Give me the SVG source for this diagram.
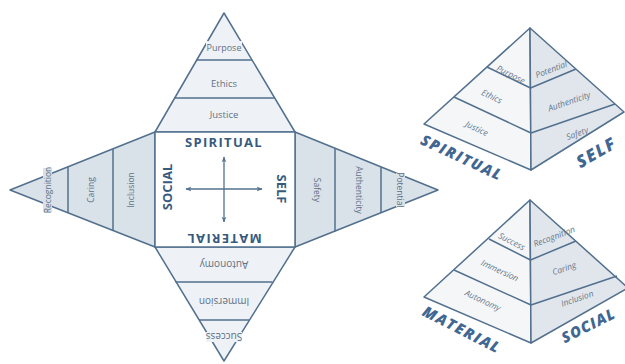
<svg xmlns="http://www.w3.org/2000/svg" width="625" height="364" viewBox="0 0 625 364">
<style>
.edge{stroke:#52708e;stroke-width:1.5;stroke-linejoin:round}
.tb{fill:#eef1f5}
.sd{fill:#d9e1e9}
.lbl{font-family:"Open Sans","Noto Sans",sans-serif;fill:#5e7185;text-anchor:middle;dominant-baseline:central}
.big{font-family:"Open Sans","Noto Sans",sans-serif;font-weight:700;fill:#375a7f;text-anchor:middle;dominant-baseline:central;font-size:13px}
.pl{font-family:"Open Sans","Noto Sans",sans-serif;font-style:italic;fill:#65788c;text-anchor:middle;dominant-baseline:central;font-size:8.5px}
.pb{font-family:"Open Sans","Noto Sans",sans-serif;font-style:italic;font-weight:800;fill:#3f6792;text-anchor:middle;dominant-baseline:central}
.lf{fill:#f4f6f8}
.rf{fill:#e0e6ec}
.ax{stroke:#52708e;stroke-width:1.3;fill:none}
</style>
<defs>
<marker id="ah" viewBox="0 0 10 10" refX="9" refY="5" markerWidth="6" markerHeight="6" orient="auto-start-reverse" markerUnits="userSpaceOnUse">
<path d="M0,1 L10,5 L0,9 L3,5 Z" fill="#52708e"/>
</marker>
</defs>

<g id="net-top">
<polygon class="tb edge" points="224,13 295,132 155,132"/>
<line class="edge" x1="196" y1="60" x2="252" y2="60"/>
<line class="edge" x1="174" y1="98" x2="274" y2="98"/>
<rect class="tb" x="206" y="41" width="36" height="12"/>
<text class="lbl" x="224" y="47" font-size="9">Purpose</text>
<text class="lbl" x="224" y="83" font-size="9.5">Ethics</text>
<text class="lbl" x="224" y="114" font-size="9.5">Justice</text>
</g>

<g id="net-bottom">
<polygon class="tb edge" points="155,247 295,247 224,361"/>
<line class="edge" x1="175.5" y1="282" x2="272.5" y2="282"/>
<line class="edge" x1="199" y1="320" x2="249" y2="320"/>
<rect class="tb" x="206" y="332" width="36" height="10"/>
<text class="lbl" x="224" y="337" font-size="10" transform="rotate(180 224 337)">Success</text>
<text class="lbl" x="224" y="265" font-size="10" transform="rotate(180 224 265)">Autonomy</text>
<text class="lbl" x="224" y="302" font-size="10" transform="rotate(180 224 302)">Immersion</text>
</g>

<g id="net-left">
<polygon class="sd edge" points="10,190 155,132 155,247"/>
<line class="edge" x1="68" y1="167" x2="68" y2="213"/>
<line class="edge" x1="113" y1="149" x2="113" y2="231"/>
<rect class="sd" x="43" y="168" width="9" height="44"/>
<text class="lbl" x="47" y="190" font-size="8.5" transform="rotate(-90 47 190)">Recognition</text>
<text class="lbl" x="90" y="190" font-size="8.5" transform="rotate(-90 90 190)">Caring</text>
<text class="lbl" x="130" y="190" font-size="8.5" transform="rotate(-90 130 190)">Inclusion</text>
</g>

<g id="net-right">
<polygon class="sd edge" points="295,132 438,190 295,247"/>
<line class="edge" x1="335" y1="148.6" x2="335" y2="231.4"/>
<line class="edge" x1="381" y1="167" x2="381" y2="213"/>
<rect class="sd" x="396" y="173" width="9" height="34"/>
<text class="lbl" x="317" y="190" font-size="8.5" transform="rotate(90 317 190)">Safety</text>
<text class="lbl" x="359" y="190" font-size="8.5" transform="rotate(90 359 190)">Authenticity</text>
<text class="lbl" x="400" y="190" font-size="8.5" transform="rotate(90 400 190)">Potential</text>
</g>

<g id="net-center">
<rect x="155" y="132" width="140" height="115" fill="#ffffff" class="edge"/>
<text class="big" x="224" y="142" letter-spacing="1.3">SPIRITUAL</text>
<text class="big" x="224" y="239" letter-spacing="1.3" transform="rotate(180 224 239)">MATERIAL</text>
<text class="big" x="167" y="187" font-size="14" transform="rotate(-90 167 187)">SOCIAL</text>
<text class="big" x="282" y="189" font-size="14" transform="rotate(90 282 189)">SELF</text>
</g>

<g id="connectors">
<line class="ax" x1="186" y1="189" x2="262" y2="189" marker-start="url(#ah)" marker-end="url(#ah)"/>
<line class="ax" x1="224" y1="157" x2="224" y2="222" marker-start="url(#ah)" marker-end="url(#ah)"/>
</g>

<g id="pyramid-upper">
<polygon class="lf edge" points="530,28 424,124 531,170"/>
<polygon class="rf edge" points="530,28 624,112 531,170"/>
<line class="edge" x1="487" y1="67" x2="530.5" y2="88"/>
<line class="edge" x1="454" y1="97" x2="531" y2="133"/>
<line class="edge" x1="530.5" y1="88" x2="576" y2="69"/>
<line class="edge" x1="531" y1="133" x2="615" y2="104"/>
<text class="pl" x="511" y="74" transform="rotate(27 511 74)">Purpose</text>
<text class="pl" x="551" y="69" transform="rotate(-21 551 69)">Potential</text>
<text class="pl" x="492" y="96" transform="rotate(25 492 96)">Ethics</text>
<text class="pl" x="569" y="101" transform="rotate(-19 569 101)">Authenticity</text>
<text class="pl" x="477" y="128" transform="rotate(25 477 128)">Justice</text>
<text class="pl" x="577" y="133" transform="rotate(-20 577 133)">Safety</text>
<text class="pb" x="462" y="157" font-size="15" letter-spacing="1.5" transform="rotate(25 462 157)">SPIRITUAL</text>
<text class="pb" x="596" y="152" font-size="17" letter-spacing="1.5" transform="rotate(-30 596 152)">SELF</text>
</g>

<g id="pyramid-lower">
<polygon class="lf edge" points="530,200 424,297 531,343"/>
<polygon class="rf edge" points="530,200 628,288 531,343"/>
<line class="edge" x1="489" y1="239" x2="530.5" y2="260"/>
<line class="edge" x1="454" y1="270" x2="531" y2="305"/>
<line class="edge" x1="530.5" y1="260" x2="576" y2="241"/>
<line class="edge" x1="531" y1="305" x2="617" y2="276"/>
<text class="pl" x="512" y="241" transform="rotate(27 512 241)">Success</text>
<text class="pl" x="554" y="236" transform="rotate(-21 554 236)">Recognition</text>
<text class="pl" x="500" y="270" transform="rotate(25 500 270)">Immersion</text>
<text class="pl" x="564" y="268" transform="rotate(-19 564 268)">Caring</text>
<text class="pl" x="483" y="300" transform="rotate(25 483 300)">Autonomy</text>
<text class="pl" x="577" y="298" transform="rotate(-19 577 298)">Inclusion</text>
<text class="pb" x="462" y="329" font-size="15" letter-spacing="1.5" transform="rotate(27 462 329)">MATERIAL</text>
<text class="pb" x="588" y="325" font-size="15" letter-spacing="1" transform="rotate(-27 588 325)">SOCIAL</text>
</g>
</svg>
